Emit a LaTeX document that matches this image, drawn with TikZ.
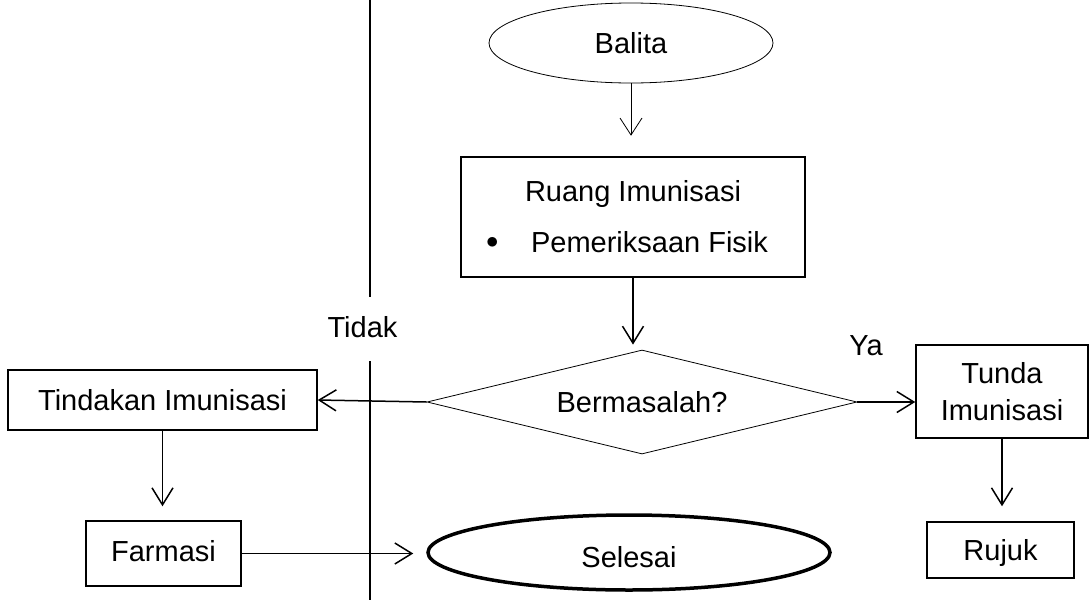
\documentclass[tikz,border=0pt]{standalone}
\usepackage{fontspec}
\setmainfont{Liberation Sans}
\usetikzlibrary{shapes.geometric,arrows.meta}
\begin{document}
\begin{tikzpicture}[x=1pt,y=-1pt,
  every node/.style={font=\fontsize{29}{35}\selectfont, inner sep=0pt},
  box/.style={draw, rectangle, line width=1.5pt, text height=21pt, text depth=0pt},
  flowarrow/.style={-{Straight Barb[length=17pt,width=21pt]}, line width=1.5pt},
  thinarrow/.style={-{Straight Barb[length=17pt,width=22pt]}, line width=0.8pt},
  lbl/.style={anchor=base}]
\useasboundingbox (0,0) rectangle (1090,600);
% lane divider
\coordinate (d1) at (370,0);
\coordinate (d2) at (370,297);
\coordinate (d3) at (370,361);
\coordinate (d4) at (370,600);
\draw[line width=2pt] (d1) -- (d2);
\draw[line width=2pt] (d3) -- (d4);
% nodes
\node[draw, ellipse, line width=0.8pt, minimum width=284pt, minimum height=80pt,
      text height=21pt, text depth=0pt] (balita) at (631,43) {Balita};
\node[draw, rectangle, line width=2.5pt, minimum width=344pt, minimum height=120pt,
      align=center] (ruang) at (633,217)
      {Ruang Imunisasi\\[16pt]\makebox[45pt][l]{\raisebox{4pt}{\fontsize{40}{40}\selectfont$\bullet$}}Pemeriksaan Fisik\hspace*{12pt}};
\node[draw, diamond, aspect=4.13, line width=0.8pt, minimum width=430pt, minimum height=104pt,
      text height=21pt, text depth=0pt] (dec) at (642,402) {Bermasalah?};
\node[box, minimum width=309pt, minimum height=60pt] (tindakan) at (162.5,400) {Tindakan Imunisasi};
\node[box, minimum width=155pt, minimum height=65pt, text depth=6pt] (farmasi) at (163.5,553.5) {Farmasi};
\node[draw, ellipse, line width=3.5pt, minimum width=402pt, minimum height=75pt,
      text height=30pt, text depth=0pt] (selesai) at (629,552.5) {Selesai};
\node[draw, rectangle, line width=1.5pt, minimum width=172pt, minimum height=93pt,
      align=center] (tunda) at (1002,391.5) {Tunda\\[2pt]Imunisasi};
\node[box, minimum width=147pt, minimum height=56pt] (rujuk) at (1000.5,550) {Rujuk};
% labels
\node[lbl] (tidak) at (362.5,337) {Tidak};
\node[lbl] (ya) at (866,355) {Ya};
% connectors
\draw[thinarrow, shorten >=20pt] (balita.south) -- (balita.south |- ruang.north);
\draw[flowarrow, shorten >=5pt] (ruang.south) -- (ruang.south |- dec.north);
\draw[flowarrow] (dec.west) -- (tindakan.east);
\draw[flowarrow, shorten >=14pt] (tindakan.south) -- (tindakan.south |- farmasi.north);
\draw[flowarrow, shorten >=13pt] (farmasi.east) -- (farmasi.east -| selesai.west);
\draw[flowarrow] (dec.east) -- (tunda.west |- dec.east);
\draw[flowarrow, shorten >=15pt] (tunda.south) -- (tunda.south |- rujuk.north);
\end{tikzpicture}
\end{document}
